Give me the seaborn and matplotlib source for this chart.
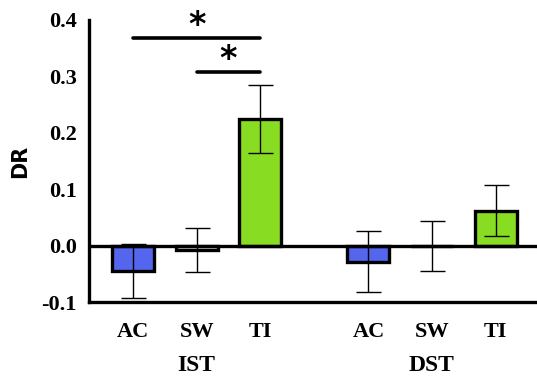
import pandas as pd
import matplotlib.pyplot as plt
import matplotlib.transforms as mtransforms
import seaborn as sns

sns.set_theme(style='white')

conditions = ['AC', 'SW', 'TI', 'AC', 'SW', 'TI']
tasks = ['IST', 'IST', 'IST', 'DST', 'DST', 'DST']
positions = [0, 1, 2, 3.7, 4.7, 5.7]
means = [-0.045, -0.008, 0.225, -0.028, 0.0, 0.062]
errors = [0.048, 0.039, 0.060, 0.054, 0.044, 0.045]
bar_colors = {'AC': '#5566ee', 'SW': '#ffffff', 'TI': '#88dd22'}

# significance brackets: (from position, to position, height)
sig_pairs = [(0, 2, 0.368), (1, 2, 0.308)]

df = pd.DataFrame({'pos': positions, 'cond': conditions, 'task': tasks, 'DR': means})

fig = plt.figure(figsize=(5.37, 3.83), dpi=100)
ax = fig.add_axes([0.166, 0.211, 0.834, 0.737])

sns.barplot(data=df, x='pos', y='DR', hue='cond', palette=bar_colors,
            native_scale=True, width=0.66, dodge=False, legend=False,
            saturation=1, edgecolor='black', linewidth=2.4, errorbar=None, ax=ax)

ax.errorbar(positions, means, yerr=errors, fmt='none', ecolor='black',
            elinewidth=1.0, capsize=9, capthick=1.0, zorder=5)

ax.axhline(0, color='black', lw=2.4, zorder=4)

ax.set_xlim(-0.69, 6.35)
ax.set_ylim(-0.1, 0.4)
ax.set_yticks([-0.1, 0.0, 0.1, 0.2, 0.3, 0.4])
ax.set_yticklabels(['-0.1', '0.0', '0.1', '0.2', '0.3', '0.4'])
ax.set_xticks(positions)
ax.set_xticklabels(conditions)

for lab in ax.get_xticklabels() + ax.get_yticklabels():
    lab.set_fontfamily('Liberation Serif')
    lab.set_fontweight('bold')
    lab.set_fontsize(16)
    lab.set_color('black')

ax.tick_params(axis='both', direction='out', width=2.4, color='black')
ax.tick_params(axis='y', length=8, pad=1)
ax.tick_params(axis='x', length=7, pad=7)

for side in ['top', 'right']:
    ax.spines[side].set_visible(False)
for side in ['left', 'bottom']:
    ax.spines[side].set_linewidth(2.4)
    ax.spines[side].set_color('black')

ax.set_xlabel('')
ax.set_ylabel('DR', fontsize=15, fontweight='bold', family='DejaVu Sans',
              color='black', labelpad=8)

trans = mtransforms.blended_transform_factory(ax.transData, fig.transFigure)
ax.text(1, 0.045, 'IST', transform=trans, ha='center', va='center', color='black',
        family='Liberation Serif', fontweight='bold', fontsize=17)
ax.text(4.7, 0.045, 'DST', transform=trans, ha='center', va='center', color='black',
        family='Liberation Serif', fontweight='bold', fontsize=17)

for x0, x1, h in sig_pairs:
    ax.plot([x0, x1], [h, h], color='black', lw=2.6, clip_on=False)
    ax.text((x0 + x1) / 2, h + 0.022, '*', ha='center', va='center', color='black',
            fontsize=24, fontweight='bold', family='DejaVu Sans')

fig.savefig('out.png', dpi=100)
